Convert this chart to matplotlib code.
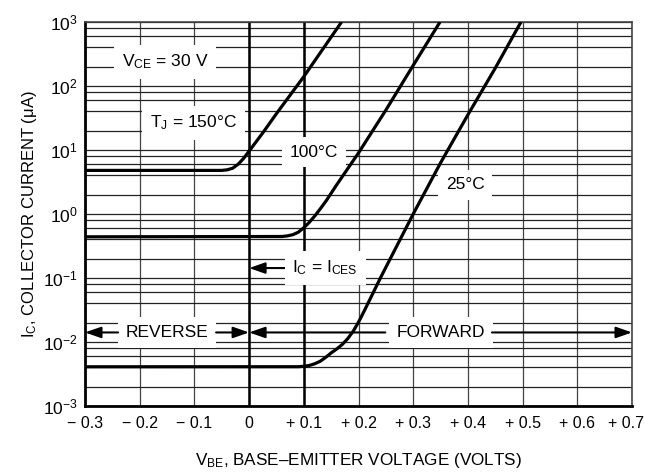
import matplotlib
matplotlib.use('Agg')
import matplotlib.pyplot as plt
import matplotlib.transforms as mtransforms
from matplotlib.ticker import FixedLocator, LogLocator, NullFormatter

plt.rcParams['font.family'] = ['Liberation Sans', 'DejaVu Sans']
plt.rcParams['mathtext.fontset'] = 'custom'
plt.rcParams['mathtext.rm'] = 'Liberation Sans'
plt.rcParams['mathtext.it'] = 'Liberation Sans:italic'
plt.rcParams['mathtext.bf'] = 'Liberation Sans:bold'

# ---- data ----
v_150 = [-0.3, -0.05, -0.04, -0.03, -0.02, -0.01, 0.0, 0.01, 0.025, 0.05, 0.075, 0.1, 0.135, 0.169]
i_150 = [4.8, 4.8, 4.9, 5.2, 6.0, 7.4, 9.6, 12.5, 18.5, 37, 72, 140, 380, 1000]

v_100 = [-0.3, 0.06, 0.07, 0.08, 0.09, 0.10, 0.11, 0.12, 0.13, 0.142, 0.16, 0.20, 0.25, 0.30, 0.349]
i_100 = [0.44, 0.445, 0.455, 0.475, 0.52, 0.61, 0.74, 0.93, 1.2, 1.66, 2.85, 9.0, 42, 210, 1000]

v_25 = [-0.3, 0.09, 0.10, 0.11, 0.12, 0.13, 0.14, 0.15, 0.16, 0.17, 0.18, 0.19, 0.20,
        0.21, 0.22, 0.24, 0.30, 0.35, 0.40, 0.45, 0.497]
i_25 = [0.0041, 0.00411, 0.00417, 0.0043, 0.00457, 0.0050, 0.00575, 0.00676, 0.00776, 0.0091,
        0.0112, 0.0146, 0.0204, 0.030, 0.0447, 0.100, 1.0, 6.3, 35.5, 190, 1000]

x_ticks = [-0.3, -0.2, -0.1, 0.0, 0.1, 0.2, 0.3, 0.4, 0.5, 0.6, 0.7]
x_tick_labels = ['\u2212 0.3', '\u2212 0.2', '\u2212 0.1', '0', '+ 0.1', '+ 0.2', '+ 0.3',
                 '+ 0.4', '+ 0.5', '+ 0.6', '+ 0.7']
y_ticks = [1e-3, 1e-2, 1e-1, 1e0, 1e1, 1e2, 1e3]
y_tick_labels = [r'$\mathregular{10^{-3}}$', r'$\mathregular{10^{-2}}$',
                 r'$\mathregular{10^{-1}}$', r'$\mathregular{10^{0}}$',
                 r'$\mathregular{10^{1}}$', r'$\mathregular{10^{2}}$', r'$\mathregular{10^{3}}$']
major_v_lines = [0.0, 0.1]

# ---- figure ----
W, H = 645, 476
fig = plt.figure(figsize=(W / 100, H / 100), dpi=100)
ax = fig.add_axes([85 / W, 1 - 406 / H, 547 / W, 384 / H])
ax.set_yscale('log')
ax.set_xlim(-0.3, 0.7)
ax.set_ylim(1e-3, 1e3)

ax.xaxis.set_major_locator(FixedLocator(x_ticks))
ax.set_xticklabels(x_tick_labels)
ax.yaxis.set_major_locator(FixedLocator(y_ticks))
ax.set_yticklabels(y_tick_labels)
ax.yaxis.set_minor_locator(LogLocator(base=10, subs=[2, 4, 6, 8], numticks=20))
ax.yaxis.set_minor_formatter(NullFormatter())
ax.tick_params(axis='both', which='both', length=0)
ax.tick_params(axis='x', labelsize=11.5, pad=7)
ax.tick_params(axis='y', labelsize=12.5, pad=5)

# shift the last x tick label slightly left so it stays inside the figure
last = ax.get_xticklabels()[-1]
last.set_transform(last.get_transform() +
                   mtransforms.ScaledTranslation(-6 / 100, 0, fig.dpi_scale_trans))

ax.grid(True, axis='y', which='both', color='#222222', lw=0.9)
ax.grid(True, axis='x', which='major', color='#444444', lw=0.9)
for xv in major_v_lines:
    ax.axvline(xv, color='black', lw=1.8, zorder=1.5)
ax.set_axisbelow(True)

for side in ['left', 'bottom']:
    ax.spines[side].set_linewidth(2.0)
    ax.spines[side].set_color('black')
for side in ['top', 'right']:
    ax.spines[side].set_linewidth(1.2)
    ax.spines[side].set_color('#444444')

lw_curve = 2.3
ax.plot(v_150, i_150, color='black', lw=lw_curve, solid_capstyle='butt', zorder=4)
ax.plot(v_100, i_100, color='black', lw=lw_curve, solid_capstyle='butt', zorder=4)
ax.plot(v_25, i_25, color='black', lw=lw_curve, solid_capstyle='butt', zorder=4)

box = dict(boxstyle='square,pad=0.45', fc='white', ec='none')
fs = 12.5
ax.text(-0.1536, 237, r'V$_\mathregular{CE}$ = 30 V', fontsize=fs, ha='center', va='center', bbox=box, zorder=3)
ax.text(-0.102, 26.3, r'T$_\mathregular{J}$ = 150°C', fontsize=fs, ha='center', va='center', bbox=box, zorder=3)
ax.text(0.118, 9.3, '100°C', fontsize=fs, ha='center', va='center', bbox=box, zorder=3)
ax.text(0.395, 2.84, '25°C', fontsize=fs, ha='center', va='center', bbox=box, zorder=3)

arrow = dict(arrowstyle='-|>,head_length=0.8,head_width=0.28', color='black', lw=1.5,
             shrinkA=0, shrinkB=0, mutation_scale=12)
y_ic = 0.143
ax.annotate(r'I$_\mathregular{C}$ = I$_\mathregular{CES}$', xy=(0.0, y_ic), xytext=(0.139, y_ic),
            fontsize=fs, ha='center', va='center', bbox=box, arrowprops=arrow, zorder=3)

y_rf = 0.0141
ax.text(-0.150, y_rf, 'REVERSE', fontsize=fs, ha='center', va='center', bbox=box, zorder=3)
ax.annotate('', xy=(-0.3, y_rf), xytext=(-0.2395, y_rf), arrowprops=arrow, zorder=3)
ax.annotate('', xy=(0.0, y_rf), xytext=(-0.0603, y_rf), arrowprops=arrow, zorder=3)
ax.text(0.351, y_rf, 'FORWARD', fontsize=fs, ha='center', va='center', bbox=box, zorder=3)
ax.annotate('', xy=(0.0, y_rf), xytext=(0.249, y_rf), arrowprops=arrow, zorder=3)
ax.annotate('', xy=(0.7, y_rf), xytext=(0.444, y_rf), arrowprops=arrow, zorder=3)

fig.text(358 / W, 1 - 461 / H, 'V$_\\mathregular{BE}$, BASE\u2013EMITTER VOLTAGE (VOLTS)',
         fontsize=12.3, ha='center', va='center')
fig.text(30 / W, 1 - 214 / H, r'I$_\mathregular{C}$, COLLECTOR CURRENT (μA)',
         fontsize=12, ha='center', va='center', rotation=90)

fig.savefig('out.png', dpi=100)
